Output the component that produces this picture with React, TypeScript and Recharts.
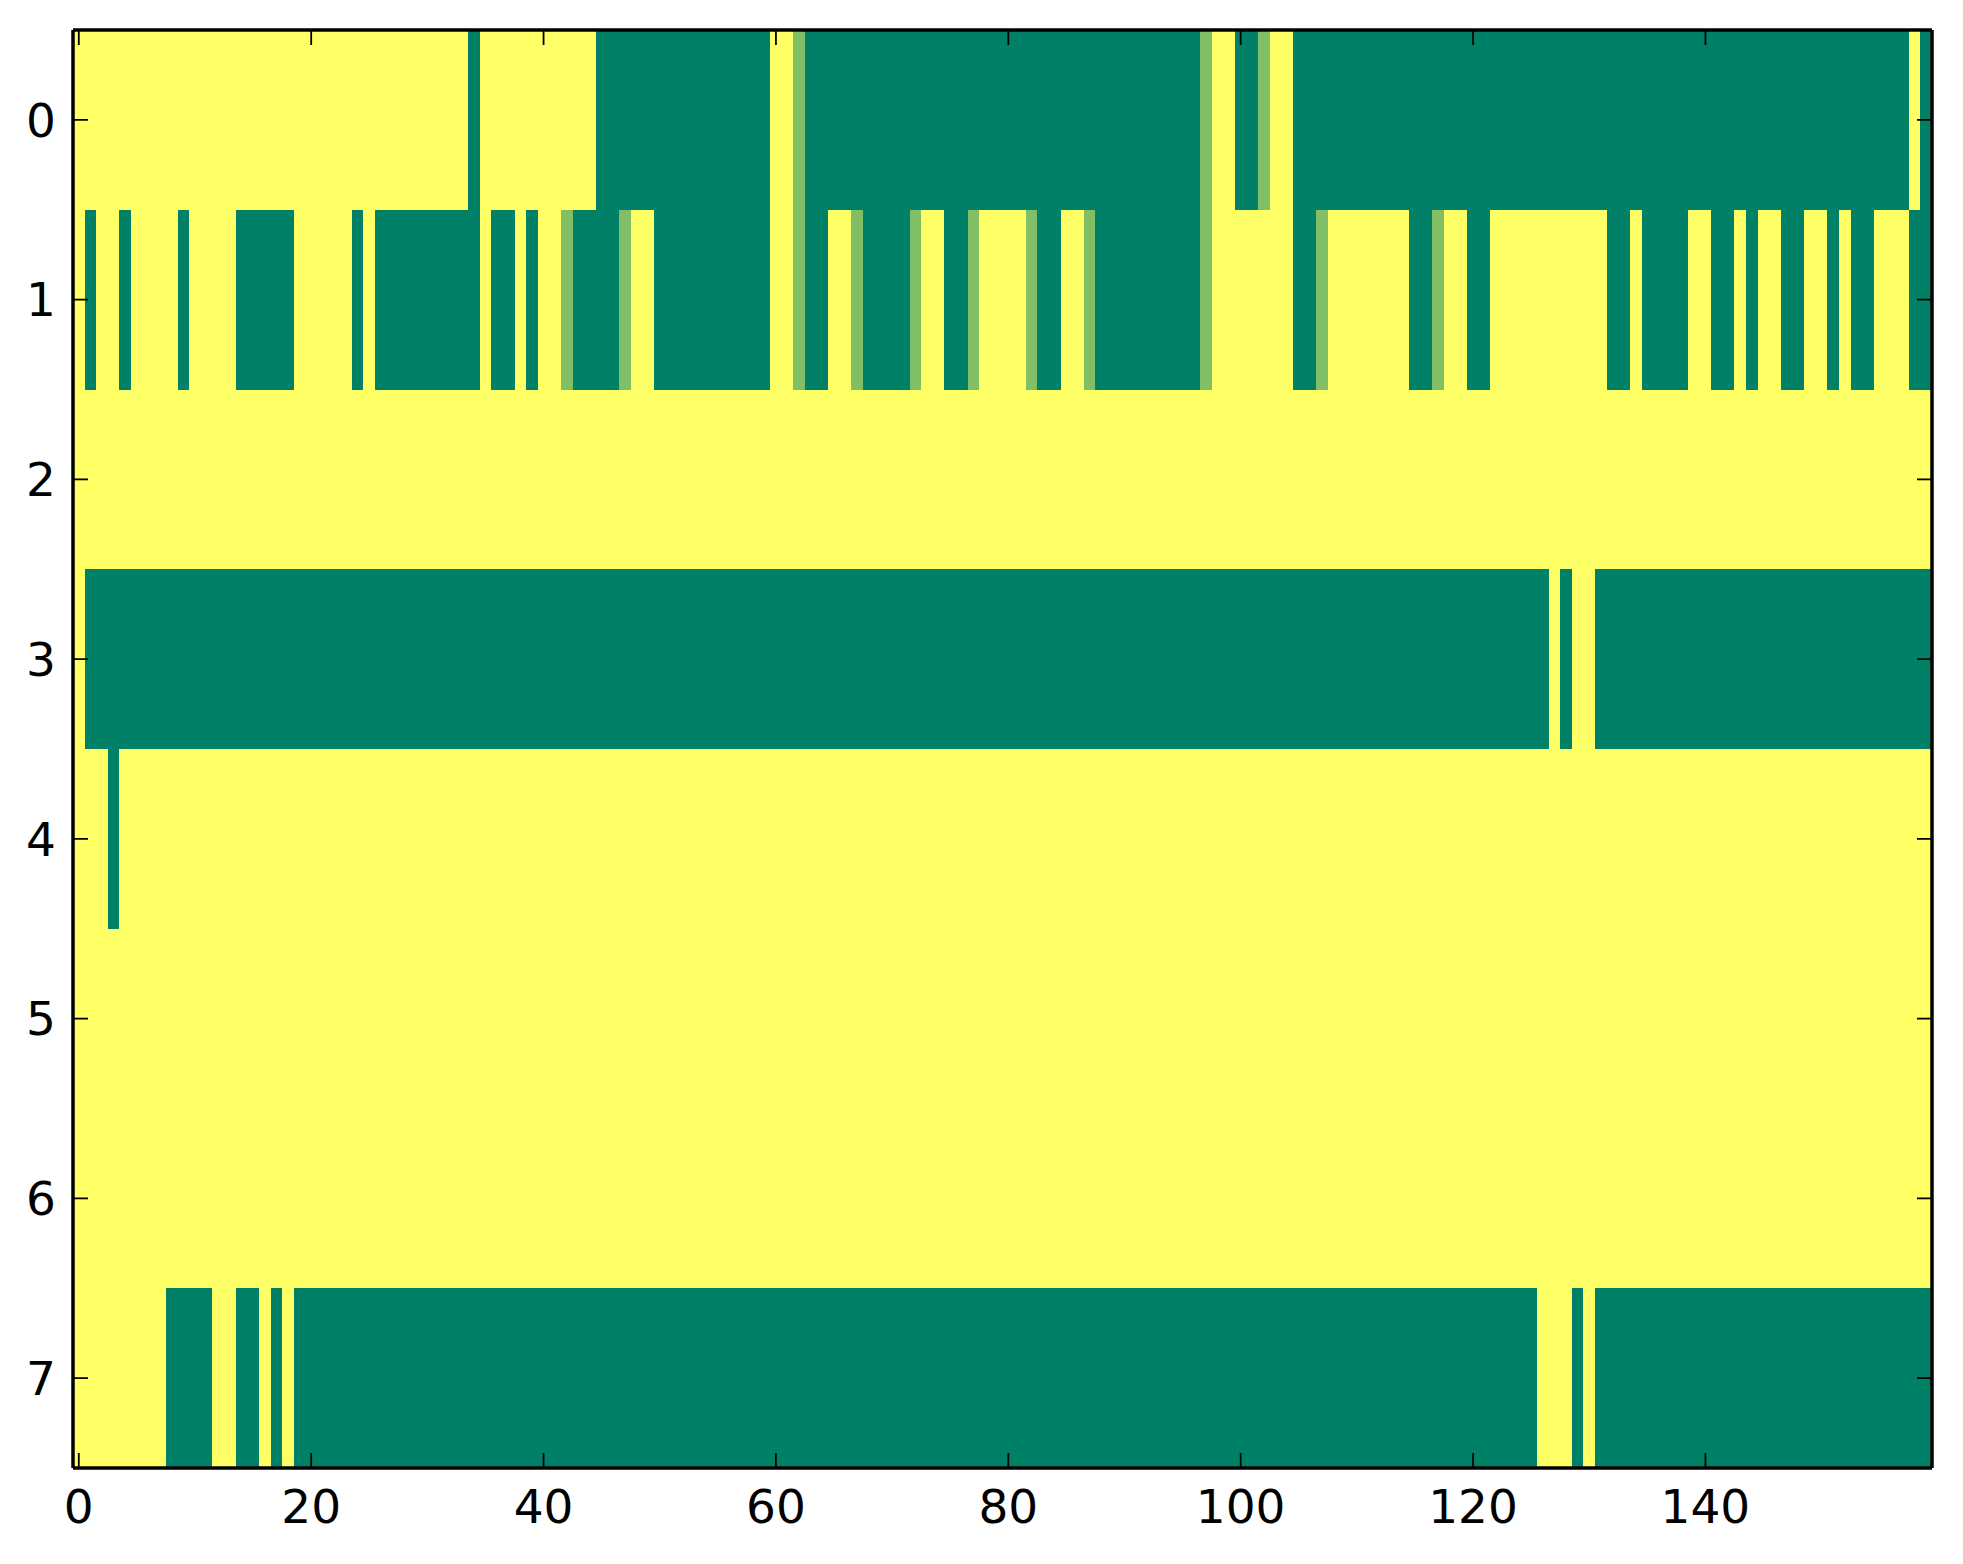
import React from 'react';
import { BarChart, Bar, XAxis, YAxis, Cell } from 'recharts';

// Row labels (y axis categories) and x tick labels
const rowLabels = ['0', '1', '2', '3', '4', '5', '6', '7'];
const xTickLabels = [0, 20, 40, 60, 80, 100, 120, 140];
const columnCount = 160;

// Each row as run-length pairs: [value, number of columns]
// value 1 = dark green, 0.5 = light green, 0 = yellow (summer_r colormap)
const row0 = [[0, 34], [1, 1], [0, 10], [1, 15], [0, 2], [0.5, 1], [1, 34], [0.5, 1], [0, 2], [1, 2], [0.5, 1], [0, 2], [1, 53], [0, 1], [1, 1]];
const row1 = [[0, 1], [1, 1], [0, 2], [1, 1], [0, 4], [1, 1], [0, 4], [1, 5], [0, 5], [1, 1], [0, 1], [1, 9], [0, 1], [1, 2], [0, 1], [1, 1], [0, 2], [0.5, 1], [1, 4], [0.5, 1], [0, 2], [1, 10], [0, 2], [0.5, 1], [1, 2], [0, 2], [0.5, 1], [1, 4], [0.5, 1], [0, 2], [1, 2], [0.5, 1], [0, 4], [0.5, 1], [1, 2], [0, 2], [0.5, 1], [1, 9], [0.5, 1], [0, 7], [1, 2], [0.5, 1], [0, 7], [1, 2], [0.5, 1], [0, 2], [1, 2], [0, 10], [1, 2], [0, 1], [1, 4], [0, 2], [1, 2], [0, 1], [1, 1], [0, 2], [1, 2], [0, 2], [1, 1], [0, 1], [1, 2], [0, 3], [1, 2]];
const row2 = [[0, 160]];
const row3 = [[0, 1], [1, 126], [0, 1], [1, 1], [0, 2], [1, 29]];
const row4 = [[0, 3], [1, 1], [0, 156]];
const row5 = [[0, 160]];
const row6 = [[0, 160]];
const row7 = [[0, 8], [1, 4], [0, 2], [1, 2], [0, 1], [1, 1], [0, 1], [1, 107], [0, 3], [1, 1], [0, 1], [1, 29]];

const rowRuns = [row0, row1, row2, row3, row4, row5, row6, row7];

// matplotlib "summer_r" colormap
function colorOf(v: number): string {
  const t = 1 - v;
  const r = Math.round(255 * t);
  const g = Math.round(255 * (0.5 + 0.5 * t));
  const b = Math.round(255 * 0.4);
  return `rgb(${r},${g},${b})`;
}

const maxRuns = Math.max(...rowRuns.map((r) => r.length));
const runKeys = Array.from({ length: maxRuns }, (_, k) => `s${k}`);

const data = rowLabels.map((label, i) => {
  const entry: Record<string, any> = { row: label };
  rowRuns[i].forEach(([, n], k) => {
    entry[`s${k}`] = n;
  });
  return entry;
});

// x ticks are placed at column centres (column i spans [i, i+1] on the edge scale)
const xTicks = xTickLabels.map((v) => v + 0.5);

const tickFont = { fill: '#000', fontSize: 47, fontFamily: 'DejaVu Sans' };
const axisLineStyle = { stroke: '#000', strokeWidth: 3.5 };
const tickLineStyle = { stroke: '#000', strokeWidth: 1.8 };

export default function App() {
  return (
    <div style={{ width: 1947, height: 1548, background: '#fff' }}>
      <BarChart
        width={1947}
        height={1548}
        data={data}
        layout="vertical"
        barCategoryGap={0}
        barGap={0}
        margin={{ top: 21, right: 22, bottom: 8, left: 0 }}
      >
        {runKeys.map((key, k) => (
          <Bar
            key={key}
            dataKey={key}
            stackId="a"
            isAnimationActive={false}
            shapeRendering="crispEdges"
          >
            {rowRuns.map((runs, i) => (
              <Cell key={i} fill={runs[k] ? colorOf(runs[k][0]) : 'none'} />
            ))}
          </Bar>
        ))}
        <XAxis
          type="number"
          domain={[0, columnCount]}
          ticks={xTicks}
          interval={0}
          allowDataOverflow
          tickFormatter={(v: number) => String(v - 0.5)}
          tick={tickFont}
          tickSize={-15}
          tickMargin={37}
          axisLine={axisLineStyle}
          tickLine={tickLineStyle}
          height={80}
        />
        <XAxis
          xAxisId="top"
          orientation="top"
          type="number"
          domain={[0, columnCount]}
          ticks={xTicks}
          interval={0}
          allowDataOverflow
          tickFormatter={() => ''}
          tick={tickFont}
          tickSize={-15}
          axisLine={axisLineStyle}
          tickLine={tickLineStyle}
          height={1}
        />
        <YAxis
          type="category"
          dataKey="row"
          interval={0}
          tick={tickFont}
          tickSize={-15}
          tickMargin={32}
          axisLine={axisLineStyle}
          tickLine={tickLineStyle}
          width={65}
        />
        <YAxis
          yAxisId="right"
          orientation="right"
          type="category"
          dataKey="row"
          interval={0}
          tickFormatter={() => ''}
          tick={tickFont}
          tickSize={-15}
          axisLine={axisLineStyle}
          tickLine={tickLineStyle}
          width={1}
        />
      </BarChart>
    </div>
  );
}
